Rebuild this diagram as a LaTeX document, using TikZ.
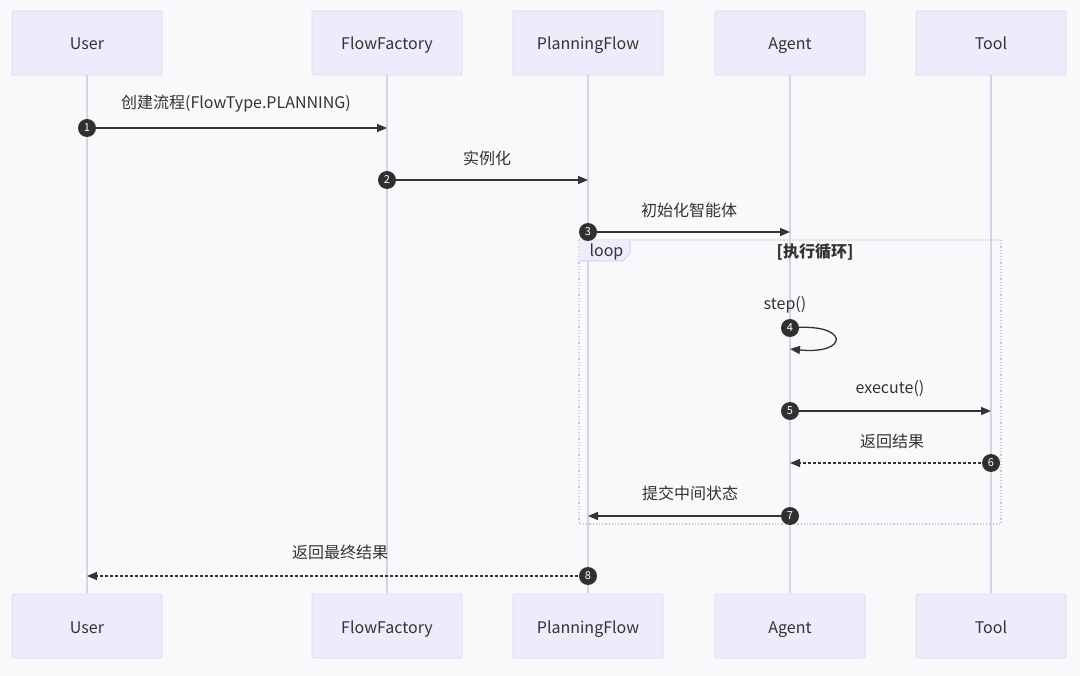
\documentclass[tikz,border=0pt]{standalone}
\usepackage{fontspec}
\setmainfont{Noto Sans CJK SC}
\usetikzlibrary{arrows.meta}
\definecolor{bg}{HTML}{F9F9FC}
\definecolor{actfill}{HTML}{ECECFC}
\definecolor{actline}{HTML}{DADAEE}
\definecolor{life}{HTML}{D4D4E6}
\definecolor{ink}{HTML}{333333}
\definecolor{loopline}{HTML}{C8C8DA}
\tikzset{
  actor/.style={draw=actline, fill=actfill, rounded corners=2pt, minimum width=150pt, minimum height=64pt, font=\fontsize{16}{19}\selectfont, text=ink, line width=0.8pt, text height=14pt, text depth=0pt},
  lifeline/.style={draw=life, line width=1.2pt},
  msg/.style={draw=ink, line width=1.3pt, -{Triangle[length=10pt,width=8pt]}},
  reply/.style={msg, dashed, dash pattern=on 3pt off 2pt},
  num/.style={circle, fill=ink!95!black, text=white, inner sep=0pt, minimum size=18pt, font=\fontsize{11}{12}\selectfont},
  lbl/.style={text=ink, font=\fontsize{16}{19}\selectfont},
}
\begin{document}
\begin{tikzpicture}[x=1pt,y=-1pt]
\fill[bg] (0,0) rectangle (1080,676);
\useasboundingbox (0,0) rectangle (1080,676);
% actors
\foreach \n/\x/\t in {u/87/User, f/387/FlowFactory, p/588/PlanningFlow, a/790/Agent, t/991/Tool}{
  \draw[lifeline] (\x,75) -- (\x,593);
  \node[actor] (\n top) at (\x,43) {\t};
  \node[actor] (\n bot) at (\x,626) {\t};
}
% loop
\draw[loopline, line width=1.2pt, dotted] (579,240) rectangle (1001,524);
\fill[actfill] (579,240) -- (630,240) -- (630,253) -- (623,261) -- (579,261) -- cycle;
\draw[loopline, line width=0.6pt] (630,240) -- (630,253) -- (623,261) -- (579,261);
\node[lbl, anchor=west] (looplbl) at (586,252) {loop};
\node[lbl, font=\fontsize{16}{19}\selectfont\bfseries] (loopcond) at (815,252) {[执行循环]};
% coordinates for message ends
\coordinate (m1s) at (87,128); \coordinate (m1e) at (387,128);
\coordinate (m2s) at (387,180); \coordinate (m2e) at (588,180);
\coordinate (m3s) at (588,232); \coordinate (m3e) at (790,232);
\coordinate (m4s) at (790,328); \coordinate (m4e) at (790,349);
\coordinate (m5s) at (790,411); \coordinate (m5e) at (991,411);
\coordinate (m6s) at (991,463); \coordinate (m6e) at (790,463);
\coordinate (m7s) at (790,516); \coordinate (m7e) at (588,516);
\coordinate (m8s) at (588,576); \coordinate (m8e) at (87,576);
% messages
\draw[msg] (m1s) -- (m1e);
\node[lbl] (l1) at (236,104) {创建流程(FlowType.PLANNING)};
\draw[msg] (m2s) -- (m2e);
\node[lbl] (l2) at (487,158) {实例化};
\draw[msg] (m3s) -- (m3e);
\node[lbl] (l3) at (689,210) {初始化智能体};
\draw[msg] (m4s) .. controls (850,322) and (850,355) .. (m4e);
\node[lbl] (l4) at (785,305) {step()};
\draw[msg] (m5s) -- (m5e);
\node[lbl] (l5) at (890,389) {execute()};
\draw[reply] (m6s) -- (m6e);
\node[lbl] (l6) at (892,441) {返回结果};
\draw[msg] (m7s) -- (m7e);
\node[lbl] (l7) at (690,493) {提交中间状态};
\draw[reply] (m8s) -- (m8e);
\node[lbl] (l8) at (340,552) {返回最终结果};
% numbers
\node[num] (n1) at (m1s) {1};
\node[num] (n2) at (m2s) {2};
\node[num] (n3) at (m3s) {3};
\node[num] (n4) at (m4s) {4};
\node[num] (n5) at (m5s) {5};
\node[num] (n6) at (m6s) {6};
\node[num] (n7) at (m7s) {7};
\node[num] (n8) at (m8s) {8};
\end{tikzpicture}
\end{document}
